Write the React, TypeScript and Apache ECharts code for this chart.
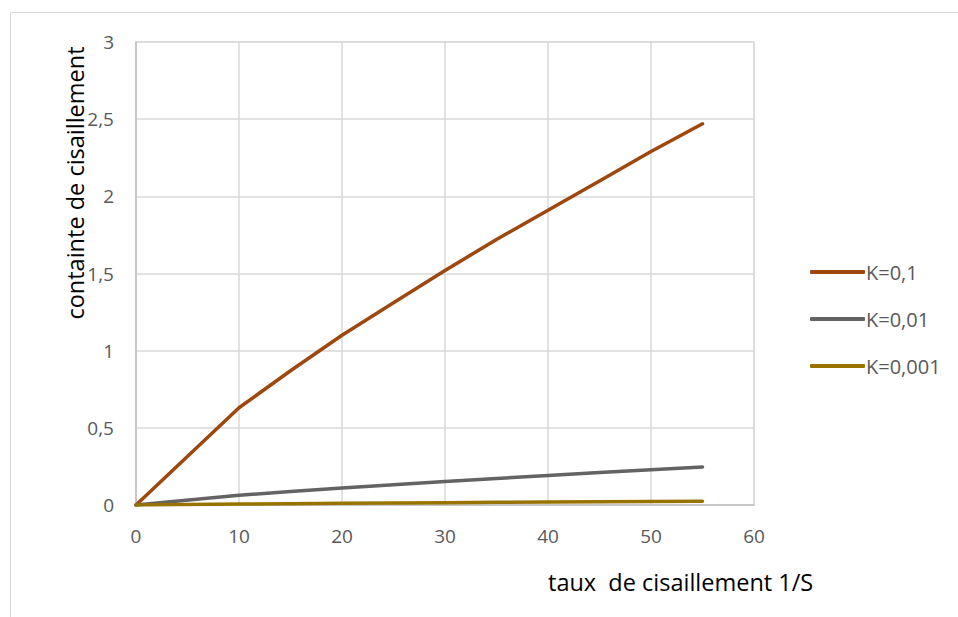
import React, { useEffect, useRef } from "react";
import * as echarts from "echarts";

const xValues = [0, 10, 15, 20, 25, 30, 35, 40, 45, 50, 55];
const k01 = [0, 0.63, 0.87, 1.1, 1.31, 1.52, 1.72, 1.91, 2.1, 2.29, 2.47];
const k001 = [0, 0.063, 0.087, 0.11, 0.131, 0.152, 0.172, 0.191, 0.21, 0.229, 0.247];
const k0001 = [0, 0.0063, 0.0087, 0.011, 0.0131, 0.0152, 0.0172, 0.0191, 0.021, 0.0229, 0.0247];
const seriesNames = ["K=0,1", "K=0,01", "K=0,001"];
const seriesColors = ["#9E480E", "#636363", "#997300"];
const xTitle = "taux  de cisaillement 1/S";
const yTitle = "containte de cisaillement";

const FONT = "'Open Sans', 'Liberation Sans', sans-serif";

export default function App() {
  const ref = useRef<HTMLDivElement>(null);
  useEffect(() => {
    if (!ref.current) return;
    const chart = echarts.init(ref.current, null, { renderer: "svg" });
    const all = [k01, k001, k0001];
    chart.setOption({
      animation: false,
      backgroundColor: "#fff",
      grid: { left: 136, top: 42, right: 204, bottom: 112, show: true, borderColor: "#d9d9d9", borderWidth: 1 },
      xAxis: {
        type: "value",
        min: 0,
        max: 60,
        interval: 10,
        axisLine: { show: true, onZero: false, lineStyle: { color: "#bfbfbf", width: 1.5 } },
        axisTick: { show: false },
        splitLine: { show: true, lineStyle: { color: "#d9d9d9", width: 1.5 } },
        axisLabel: { color: "#595959", fontSize: 19, fontFamily: FONT, margin: 21 },
      },
      yAxis: {
        type: "value",
        min: 0,
        max: 3,
        interval: 0.5,
        axisLine: { show: true, lineStyle: { color: "#bfbfbf", width: 1.5 } },
        axisTick: { show: false },
        splitLine: { show: true, lineStyle: { color: "#d9d9d9", width: 1.5 } },
        axisLabel: {
          color: "#595959",
          fontSize: 19,
          fontFamily: FONT,
          margin: 22,
          formatter: (v: number) => String(v).replace(".", ","),
        },
      },
      legend: {
        orient: "vertical",
        left: 805,
        top: 254,
        itemWidth: 55,
        itemHeight: 4,
        itemGap: 21,
        icon: "roundRect",
        textStyle: { color: "#595959", fontSize: 20, lineHeight: 26, fontFamily: FONT, padding: [0, 0, 0, -4] },
        data: seriesNames,
      },
      series: seriesNames.map((name, i) => ({
        name,
        type: "line",
        data: xValues.map((x, j) => [x, all[i][j]]),
        showSymbol: false,
        symbol: "none",
        lineStyle: { color: seriesColors[i], width: 3.5, cap: "round" },
        itemStyle: { color: seriesColors[i] },
      })),
      graphic: [
        {
          type: "rect",
          shape: { x: 10.5, y: 12.5, width: 960, height: 620 },
          style: { fill: "none", stroke: "#d9d9d9", lineWidth: 1 },
          silent: true,
        },
        {
          type: "text",
          x: 548,
          y: 582,
          style: { text: xTitle, fontSize: 23.5, fontFamily: FONT, fill: "#000", verticalAlign: "middle" },
        },
        {
          type: "text",
          x: 75,
          y: 183,
          rotation: Math.PI / 2,
          style: {
            text: yTitle,
            fontSize: 23.5,
            fontFamily: FONT,
            fill: "#000",
            align: "center",
            verticalAlign: "middle",
          },
        },
      ],
    });
    return () => chart.dispose();
  }, []);
  return (
    <div
      ref={ref}
      style={{ position: "fixed", left: 0, top: 0, width: 958, height: 617, background: "#fff" }}
    />
  );
}
